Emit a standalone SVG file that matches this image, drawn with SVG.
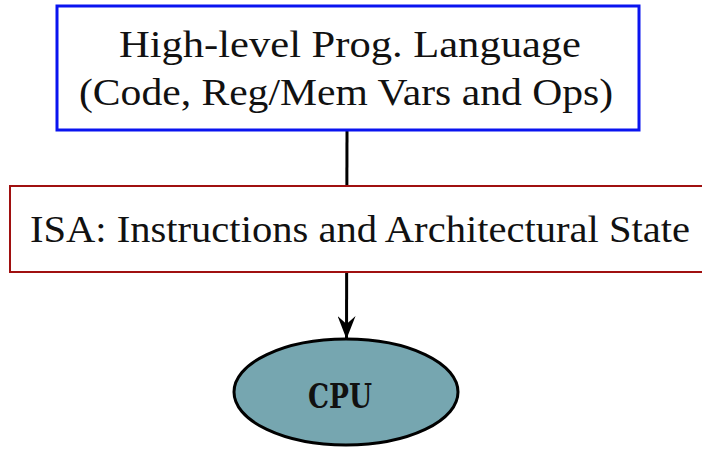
<svg xmlns="http://www.w3.org/2000/svg" width="702" height="449" viewBox="0 0 702 449">
<style>
.t{font-family:"Liberation Serif","DejaVu Serif",serif;fill:#111;}
.box{fill:#fff;}
</style>
<defs>
<marker id="ah" markerWidth="24" markerHeight="18" refX="23" refY="9" orient="auto" markerUnits="userSpaceOnUse" viewBox="0 0 24 18">
<path d="M0,0 L23,9 L0,18 L8,9 Z" fill="#000"/>
</marker>
</defs>
<g id="connectors">
<line x1="347" y1="130" x2="346.5" y2="339" stroke="#000" stroke-width="3" marker-end="url(#ah)"/>
</g>
<g id="hll">
<rect class="box" x="57" y="6" width="582" height="124" stroke="#0a14f0" stroke-width="3"/>
<text class="t" x="350" y="57" font-size="38" text-anchor="middle" textLength="462" lengthAdjust="spacingAndGlyphs">High-level Prog. Language</text>
<text class="t" x="346" y="105" font-size="38" text-anchor="middle" textLength="534" lengthAdjust="spacingAndGlyphs">(Code, Reg/Mem Vars and Ops)</text>
</g>
<g id="isa">
<rect class="box" x="10" y="186" width="700" height="86" stroke="#a01010" stroke-width="2"/>
<text class="t" x="360" y="242" font-size="38" text-anchor="middle" textLength="660" lengthAdjust="spacingAndGlyphs">ISA: Instructions and Architectural State</text>
</g>
<g id="cpu">
<ellipse cx="346" cy="392" rx="112" ry="53" fill="#76a6b0" stroke="#000" stroke-width="3"/>
<text x="340" y="408" font-family="DejaVu Serif, serif" font-size="34" font-weight="bold" fill="#111" text-anchor="middle" textLength="64" lengthAdjust="spacingAndGlyphs">CPU</text>
</g>
</svg>
